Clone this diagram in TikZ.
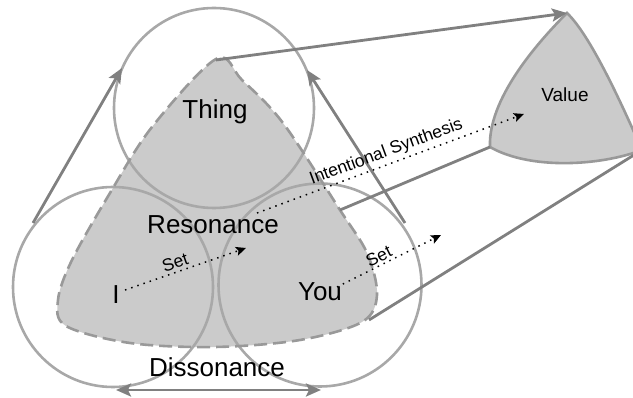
\documentclass[tikz,border=0pt]{standalone}
\usepackage{fontspec}
\setmainfont{Liberation Sans}
\usetikzlibrary{arrows.meta}
\definecolor{circgray}{HTML}{A8A8A8}
\definecolor{arrgray}{HTML}{808080}
\definecolor{fillgray}{HTML}{CBCBCB}
\definecolor{edgegray}{HTML}{999999}
\tikzset{
  circ/.style={circle, draw=circgray, line width=2.6pt, inner sep=0pt},
  biglabel/.style={font=\fontsize{26}{26}\selectfont, inner sep=0pt},
  smalllabel/.style={font=\fontsize{17.5}{17.5}\selectfont, inner sep=1pt},
  grayarrow/.style={draw=arrgray, line width=2.8pt, -{Stealth[length=15pt,width=13pt,inset=3pt]}},
  graybiarrow/.style={draw=arrgray, line width=2.8pt, {Stealth[length=15pt,width=13pt,inset=3pt]}-{Stealth[length=15pt,width=13pt,inset=3pt]}},
  grayline/.style={draw=arrgray, line width=2.8pt},
  dotarrow/.style={draw=black, line width=1.5pt, dash pattern=on 1.5pt off 5pt, -{Stealth[length=10pt,width=9pt,inset=2pt]}},
}
\begin{document}
\begin{tikzpicture}[x=1pt,y=-1pt]
\useasboundingbox (0,0) rectangle (633,398);
\clip (0,0) rectangle (633,398);
% named vertices
\coordinate (rtop) at (216,60);
\coordinate (rright) at (340,210);
\coordinate (rbr) at (369,320);
\coordinate (vtop) at (567,13);
\coordinate (vbl) at (490,147);
\coordinate (vbr) at (642,150);
% resonance shape fill
\fill[fillgray] plot[smooth cycle, tension=0.55] coordinates {(216,59) (152,127) (110,193) (72,260) (58,300) (66,326) (130,343) (215,347) (300,340) (362,322) (377,295) (367,253) (340,210) (283,123) (242,80)};
% circles
\node[circ, minimum size=200pt] (thingc) at (214,108) {};
\node[circ, minimum size=200pt] (ic) at (113,287) {};
\node[circ, minimum size=203pt] (youc) at (320,285) {};
% dashed border
\draw[edgegray, line width=2.6pt, dash pattern=on 13pt off 6pt] plot[smooth cycle, tension=0.55] coordinates {(216,59) (152,127) (110,193) (72,260) (58,300) (66,326) (130,343) (215,347) (300,340) (362,322) (377,295) (367,253) (340,210) (283,123) (242,80)};
% value shape
\filldraw[fill=fillgray, draw=edgegray, line width=2.6pt] (vtop) .. controls (535,45) and (488,100) .. (vbl) .. controls (530,170) and (600,166) .. (vbr) .. controls (620,100) and (590,35) .. (vtop) -- cycle;
% connectors
\coordinate (ls) at (33,223);
\coordinate (le) at (122,68);
\coordinate (rs) at (405,223);
\coordinate (re) at (307,70);
\coordinate (bl) at (116,390);
\coordinate (br) at (321,390);
\draw[grayarrow] (rtop) -- (vtop);
\draw[grayarrow] (ls) -- (le);
\draw[grayarrow] (rs) -- (re);
\draw[graybiarrow] (bl) -- (br);
\draw[grayline] (rright) -- (vbl);
\draw[grayline] (rbr) -- (vbr);
% labels
\node[biglabel] (thing) at (215,112) {Thing};
\node[biglabel] (res) at (213,225) {Resonance};
\node[biglabel] (ilab) at (116,295) {I};
\node[biglabel] (you) at (320,292) {You};
\node[biglabel] (dis) at (217,367) {Dissonance};
\node[font=\fontsize{19}{19}\selectfont, inner sep=0pt] (val) at (565,95) {Value};
% dotted arrows
\coordinate (s1a) at (125,290);
\coordinate (s1b) at (246,248);
\coordinate (s2a) at (337,287);
\coordinate (s2b) at (441,235);
\coordinate (isa) at (257,213);
\coordinate (isb) at (524,114);
\draw[dotarrow] (s1a) -- node[pos=0.44, sloped, above=2pt, smalllabel] {Set} (s1b);
\draw[dotarrow] (s2a) -- node[pos=0.44, sloped, above=1pt, smalllabel] {Set} (s2b);
\draw[dotarrow] (isa) -- node[pos=0.5, sloped, above=2pt, smalllabel] {Intentional Synthesis} (isb);
\end{tikzpicture}
\end{document}
